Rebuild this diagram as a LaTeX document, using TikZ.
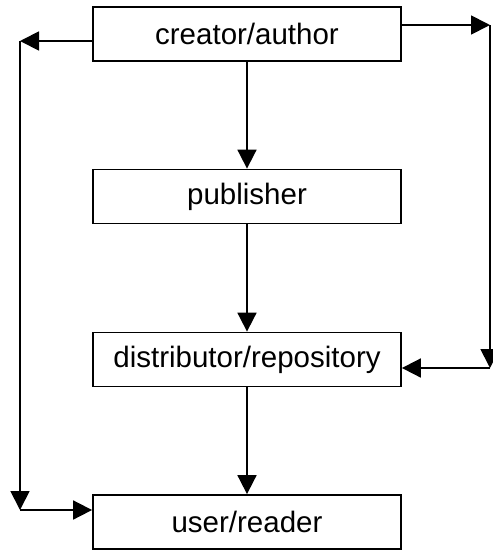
\documentclass[tikz,border=0pt]{standalone}
\usepackage{fontspec}
\setmainfont{Liberation Sans}
\usetikzlibrary{arrows.meta}
\begin{document}
\begin{tikzpicture}[x=1pt,y=-1pt,
  stage/.style={draw=black, line width=1.8pt, fill=white, minimum width=308pt,
    minimum height=54pt, inner sep=0pt,
    font=\fontsize{29.5}{35}\selectfont},
  flow/.style={line width=1.8pt, -{Triangle[length=19pt,width=19pt]}}]
\useasboundingbox (0,0) rectangle (493,550);

% the four stages of the chain
\node[stage] (creator) at (247,34)    {creator/author};
\node[stage] (publisher) at (247,196.5) {publisher};
\node[stage] (distrib) at (247,359.5)   {distributor/repository};
\node[stage] (user) at (247,522)      {user/reader};

% main downward chain
\draw[flow] (creator.south) -- (publisher.north);
\draw[flow] (publisher.south) -- (distrib.north);
\draw[flow] (distrib.south) -- (user.north);

% left bypass: creator straight to user
\coordinate (lt) at (20,41);
\coordinate (lb) at (20,510);
\draw[flow] (creator.west |- lt) -- (lt);
\draw[flow] (lt) -- (lb);
\draw[flow] (lb) -- (user.west |- lb);

% right bypass: creator straight to distributor
\coordinate (rt) at (490,25);
\coordinate (rb) at (490,368);
\draw[flow] (creator.east |- rt) -- (rt);
\draw[flow] (rt) -- (rb);
\draw[flow] (rb) -- (distrib.east |- rb);
\end{tikzpicture}
\end{document}
